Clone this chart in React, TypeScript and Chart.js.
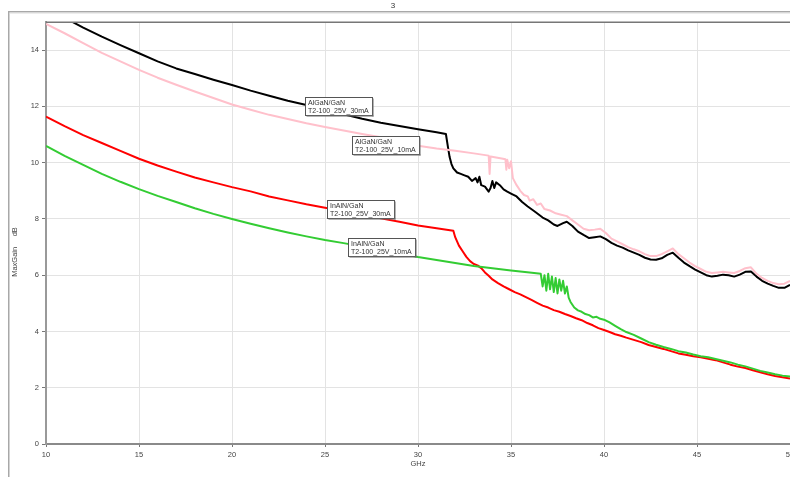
import React, { useEffect, useRef } from "react";
import { Chart, registerables } from "chart.js";

Chart.register(...registerables);

const chartTitle = "3";
const xTitle = "GHz";
const yTitle = "MaxGain     dB";
const xTicks = [10, 15, 20, 25, 30, 35, 40, 45, 50];
const yTicks = [0, 2, 4, 6, 8, 10, 12, 14];

const seriesNames = [
  "AlGaN/GaN T2-100_25V_30mA",
  "AlGaN/GaN T2-100_25V_10mA",
  "InAlN/GaN T2-100_25V_30mA",
  "InAlN/GaN T2-100_25V_10mA",
];

const freqAlGaN30 = [10, 11, 12, 13, 14, 15, 16, 17, 18, 19, 20, 21, 22, 23, 24, 25, 26, 27, 28, 29, 30, 31, 31.5, 31.6, 31.7, 31.8, 31.9, 32.1, 32.3, 32.5, 32.7, 32.9, 33.1, 33.2, 33.3, 33.4, 33.6, 33.8, 33.9, 34.0, 34.1, 34.2, 34.4, 34.6, 34.8, 35.0, 35.3, 35.6, 35.9, 36.2, 36.4, 36.7, 37.0, 37.3, 37.5, 37.8, 38.0, 38.3, 38.6, 38.9, 39.2, 39.5, 39.8, 40.1, 40.4, 40.7, 41.0, 41.3, 41.6, 41.9, 42.2, 42.5, 42.8, 43.1, 43.4, 43.7, 44.0, 44.3, 44.6, 44.9, 45.2, 45.5, 45.8, 46.1, 46.4, 46.7, 47.0, 47.3, 47.6, 47.9, 48.2, 48.5, 48.8, 49.1, 49.4, 49.7, 50];
const gainAlGaN30 = [15.5, 15.15, 14.8, 14.48, 14.18, 13.89, 13.6, 13.35, 13.15, 12.95, 12.76, 12.56, 12.38, 12.2, 12.05, 11.88, 11.72, 11.56, 11.42, 11.3, 11.19, 11.08, 11.02, 10.6, 10.2, 9.95, 9.8, 9.65, 9.6, 9.55, 9.5, 9.35, 9.45, 9.3, 9.5, 9.2, 9.15, 8.97, 9.1, 9.35, 9.1, 9.3, 9.2, 9.05, 8.97, 8.9, 8.8, 8.6, 8.44, 8.3, 8.2, 8.05, 7.95, 7.8, 7.75, 7.85, 7.9, 7.75, 7.55, 7.43, 7.32, 7.35, 7.38, 7.28, 7.15, 7.05, 6.98, 6.88, 6.8, 6.72, 6.62, 6.56, 6.55, 6.6, 6.72, 6.8, 6.62, 6.45, 6.32, 6.2, 6.1, 6.0, 5.95, 5.98, 6.02, 6.0, 5.95, 6.02, 6.12, 6.13, 5.95, 5.8, 5.7, 5.62, 5.55, 5.55, 5.66];

const freqAlGaN10 = [10, 11, 12, 13, 14, 15, 16, 17, 18, 19, 20, 21, 22, 23, 24, 25, 26, 27, 28, 29, 30, 31, 32, 33, 33.8, 33.85, 33.9, 34.5, 34.7, 34.75, 34.8, 34.9, 35.0, 35.1, 35.3, 35.5, 35.7, 35.9, 36.0, 36.2, 36.4, 36.6, 36.8, 37.1, 37.4, 37.7, 38.0, 38.3, 38.6, 38.9, 39.2, 39.5, 39.8, 40.1, 40.4, 40.7, 41.0, 41.3, 41.6, 41.9, 42.2, 42.5, 42.8, 43.1, 43.4, 43.7, 44.0, 44.3, 44.6, 44.9, 45.2, 45.5, 45.8, 46.1, 46.4, 46.7, 47.0, 47.3, 47.6, 47.9, 48.2, 48.5, 48.8, 49.1, 49.4, 49.7, 50];
const gainAlGaN10 = [14.93, 14.6, 14.25, 13.9, 13.6, 13.3, 13.02, 12.77, 12.53, 12.3, 12.07, 11.88, 11.7, 11.55, 11.4, 11.27, 11.14, 11.02, 10.9, 10.76, 10.6, 10.5, 10.42, 10.33, 10.25, 9.6, 10.22, 10.15, 10.12, 9.75, 10.1, 9.8, 10.05, 9.45, 9.2, 9.0, 8.85, 8.8, 8.65, 8.7, 8.5, 8.55, 8.35, 8.3, 8.2, 8.15, 8.1, 7.95, 7.8, 7.65, 7.6, 7.62, 7.65, 7.5, 7.3, 7.2, 7.1, 7.0, 6.92, 6.85, 6.75, 6.68, 6.68, 6.75, 6.85, 6.95, 6.75, 6.6, 6.45, 6.32, 6.22, 6.12, 6.08, 6.1, 6.12, 6.1, 6.08, 6.15, 6.25, 6.28, 6.05, 5.9, 5.8, 5.72, 5.68, 5.7, 5.8];

const freqInAlN30 = [10, 11, 12, 13, 14, 15, 16, 17, 18, 19, 20, 21, 22, 23, 24, 25, 26, 27, 28, 29, 30, 31, 31.9, 32.0, 32.2, 32.4, 32.6, 32.8, 33.0, 33.2, 33.4, 33.6, 33.8, 34.0, 34.3, 34.6, 34.9, 35.2, 35.5, 35.8, 36.1, 36.4, 36.7, 37.0, 37.3, 37.6, 37.9, 38.2, 38.5, 38.8, 39.1, 39.4, 39.7, 40.0, 40.3, 40.6, 40.9, 41.2, 41.6, 42.0, 42.4, 42.8, 43.2, 43.6, 44.0, 44.4, 44.8, 45.2, 45.6, 46.0, 46.4, 46.8, 47.2, 47.6, 48.0, 48.4, 48.8, 49.2, 49.6, 50];
const gainInAlN30 = [11.64, 11.3, 10.98, 10.7, 10.42, 10.14, 9.9, 9.68, 9.47, 9.3, 9.13, 8.98, 8.8, 8.66, 8.52, 8.4, 8.28, 8.14, 8.02, 7.9, 7.77, 7.67, 7.58, 7.35, 7.05, 6.85, 6.65, 6.5, 6.4, 6.35, 6.25, 6.1, 5.98, 5.85, 5.72, 5.6, 5.5, 5.4, 5.32, 5.22, 5.12, 5.02, 4.92, 4.85, 4.76, 4.7, 4.62, 4.55, 4.47, 4.4, 4.3, 4.22, 4.12, 4.05, 3.98, 3.9, 3.85, 3.78, 3.7, 3.62, 3.52, 3.45, 3.38, 3.3, 3.22, 3.17, 3.12, 3.08, 3.03, 2.98, 2.9, 2.82, 2.75, 2.7, 2.62, 2.55, 2.48, 2.42, 2.37, 2.33];

const freqInAlN10 = [10, 11, 12, 13, 14, 15, 16, 17, 18, 19, 20, 21, 22, 23, 24, 25, 26, 27, 28, 29, 30, 31, 32, 33, 34, 35, 36, 36.6, 36.7, 36.8, 36.9, 37.0, 37.1, 37.2, 37.3, 37.4, 37.5, 37.6, 37.7, 37.8, 37.9, 38.0, 38.1, 38.2, 38.4, 38.6, 38.8, 39.0, 39.2, 39.4, 39.6, 39.8, 40.0, 40.3, 40.6, 40.9, 41.2, 41.6, 42.0, 42.4, 42.8, 43.2, 43.6, 44.0, 44.4, 44.8, 45.2, 45.6, 46.0, 46.4, 46.8, 47.2, 47.6, 48.0, 48.4, 48.8, 49.2, 49.6, 50];
const gainInAlN10 = [10.6, 10.24, 9.92, 9.6, 9.32, 9.06, 8.82, 8.6, 8.38, 8.18, 8.0, 7.83, 7.67, 7.52, 7.38, 7.25, 7.14, 7.02, 6.9, 6.78, 6.65, 6.54, 6.43, 6.33, 6.25, 6.17, 6.1, 6.05, 5.6, 6.0, 5.45, 6.05, 5.5, 5.95, 5.4, 5.9, 5.35, 5.85, 5.45, 5.8, 5.35, 5.6, 5.2, 5.05, 4.85, 4.75, 4.7, 4.62, 4.58, 4.5, 4.52, 4.45, 4.42, 4.32, 4.2, 4.08, 3.98, 3.88, 3.75, 3.62, 3.53, 3.45, 3.38, 3.3, 3.25, 3.18, 3.12, 3.08, 3.02, 2.96, 2.9, 2.82, 2.76, 2.68, 2.6, 2.54, 2.48, 2.43, 2.4];

// annotation boxes: top-left corner in data units
const labelFreqs = [23.92, 26.44, 25.12, 26.22];
const labelGains = [12.35, 10.95, 8.68, 7.32];
const labelLines = [
  ["AlGaN/GaN", "T2-100_25V_30mA"],
  ["AlGaN/GaN", "T2-100_25V_10mA"],
  ["InAlN/GaN", "T2-100_25V_30mA"],
  ["InAlN/GaN", "T2-100_25V_10mA"],
];

const FONT = "'Liberation Sans', Arial, sans-serif";

function toPoints(xs: number[], ys: number[]) {
  return xs.map((x, i) => ({ x, y: ys[i] }));
}

const decorPlugin = {
  id: "decor",
  beforeDraw(chart: any) {
    const ctx = chart.ctx;
    ctx.save();
    ctx.fillStyle = "#ffffff";
    ctx.fillRect(0, 0, chart.width, chart.height);
    // outer panel frame
    ctx.fillStyle = "#a8a8a8";
    ctx.fillRect(8, 11, chart.width, 1.5);
    ctx.fillRect(8, 11, 1.5, chart.height);
    ctx.fillStyle = "#dcdcdc";
    ctx.fillRect(9.5, 12.5, chart.width, 1);
    // title
    ctx.fillStyle = "#333";
    ctx.font = `8px ${FONT}`;
    ctx.textAlign = "center";
    ctx.textBaseline = "middle";
    ctx.fillText(chartTitle, 393, 6);
    ctx.restore();
  },
  afterDraw(chart: any) {
    const ctx = chart.ctx;
    const area = chart.chartArea;
    const xs = chart.scales.x;
    const ys = chart.scales.y;
    ctx.save();
    // top border of plot
    ctx.fillStyle = "#777";
    ctx.fillRect(area.left, area.top - 0.5, area.right - area.left + 2, 1.5);
    // axis titles
    ctx.fillStyle = "#444";
    ctx.font = `7.5px ${FONT}`;
    ctx.textAlign = "center";
    ctx.textBaseline = "middle";
    ctx.fillText(xTitle, (area.left + area.right) / 2, 464);
    ctx.translate(15, 252);
    ctx.rotate(-Math.PI / 2);
    ctx.fillText(yTitle, 0, 0);
    ctx.restore();

    // annotation boxes
    ctx.save();
    ctx.font = `7px ${FONT}`;
    ctx.textAlign = "left";
    ctx.textBaseline = "alphabetic";
    labelFreqs.forEach((f, i) => {
      const px = Math.round(xs.getPixelForValue(f)) + 0.5;
      const py = Math.round(ys.getPixelForValue(labelGains[i])) + 0.5;
      const w = 67;
      const h = 18;
      ctx.fillStyle = "#ffffff";
      ctx.fillRect(px, py, w, h);
      ctx.strokeStyle = "#555";
      ctx.lineWidth = 1;
      ctx.strokeRect(px, py, w, h);
      ctx.fillStyle = "#6a6a6a";
      ctx.fillRect(px + 1, py + h, w, 1);
      ctx.fillRect(px + w, py + 1, 1, h);
      ctx.fillStyle = "#333";
      ctx.fillText(labelLines[i][0], px + 2.5, py + 7.5);
      ctx.fillText(labelLines[i][1], px + 2.5, py + 15.5);
    });
    ctx.restore();
  },
};

export default function App() {
  const ref = useRef<HTMLCanvasElement | null>(null);

  useEffect(() => {
    document.body.style.margin = "0";
    const canvas = ref.current;
    if (!canvas) return;
    Chart.defaults.font.family = FONT;
    const colors = ["#000000", "#ffc0cb", "#ff0000", "#33cc33"];
    const widths = [2, 2, 2, 2];
    const series = [
      toPoints(freqAlGaN30, gainAlGaN30),
      toPoints(freqAlGaN10, gainAlGaN10),
      toPoints(freqInAlN30, gainInAlN30),
      toPoints(freqInAlN10, gainInAlN10),
    ];
    const order = [1, 0, 3, 2];
    const chart = new Chart(canvas, {
      type: "line",
      data: {
        datasets: order.map((i) => ({
          label: seriesNames[i],
          data: series[i],
          borderColor: colors[i],
          backgroundColor: colors[i],
          borderWidth: widths[i],
          pointRadius: 0,
          tension: 0,
          fill: false,
          borderJoinStyle: "round" as const,
        })),
      },
      options: {
        responsive: false,
        animation: false,
        events: [],
        layout: { padding: { left: 0, top: 22, right: 40, bottom: 0 } },
        plugins: {
          legend: { display: false },
          title: { display: false },
          tooltip: { enabled: false },
        },
        scales: {
          x: {
            type: "linear",
            min: 10,
            max: 50,
            afterBuildTicks: (s: any) => {
              s.ticks = xTicks.map((v) => ({ value: v }));
            },
            afterFit: (s: any) => {
              s.height = 33;
            },
            ticks: {
              color: "#444",
              font: { size: 7.5 },
              padding: 3,
              maxRotation: 0,
              autoSkip: false,
            },
            grid: { color: "#e3e3e3", lineWidth: 1, tickLength: 3, tickColor: "#777" },
            border: { color: "#8a8a8a", width: 2 },
          },
          y: {
            type: "linear",
            min: 0,
            max: 15,
            afterBuildTicks: (s: any) => {
              s.ticks = yTicks.map((v) => ({ value: v }));
            },
            afterFit: (s: any) => {
              s.width = 46;
            },
            ticks: {
              color: "#444",
              font: { size: 7.5 },
              padding: 3,
              autoSkip: false,
            },
            grid: { color: "#e3e3e3", lineWidth: 1, tickLength: 4, tickColor: "#777" },
            border: { color: "#999", width: 2 },
          },
        },
      },
      plugins: [decorPlugin],
    });
    return () => chart.destroy();
  }, []);

  return (
    <div
      style={{
        position: "fixed",
        left: 0,
        top: 0,
        width: 790,
        height: 477,
        overflow: "hidden",
        background: "#fff",
      }}
    >
      <canvas ref={ref} width={830} height={477} style={{ display: "block" }} />
    </div>
  );
}
